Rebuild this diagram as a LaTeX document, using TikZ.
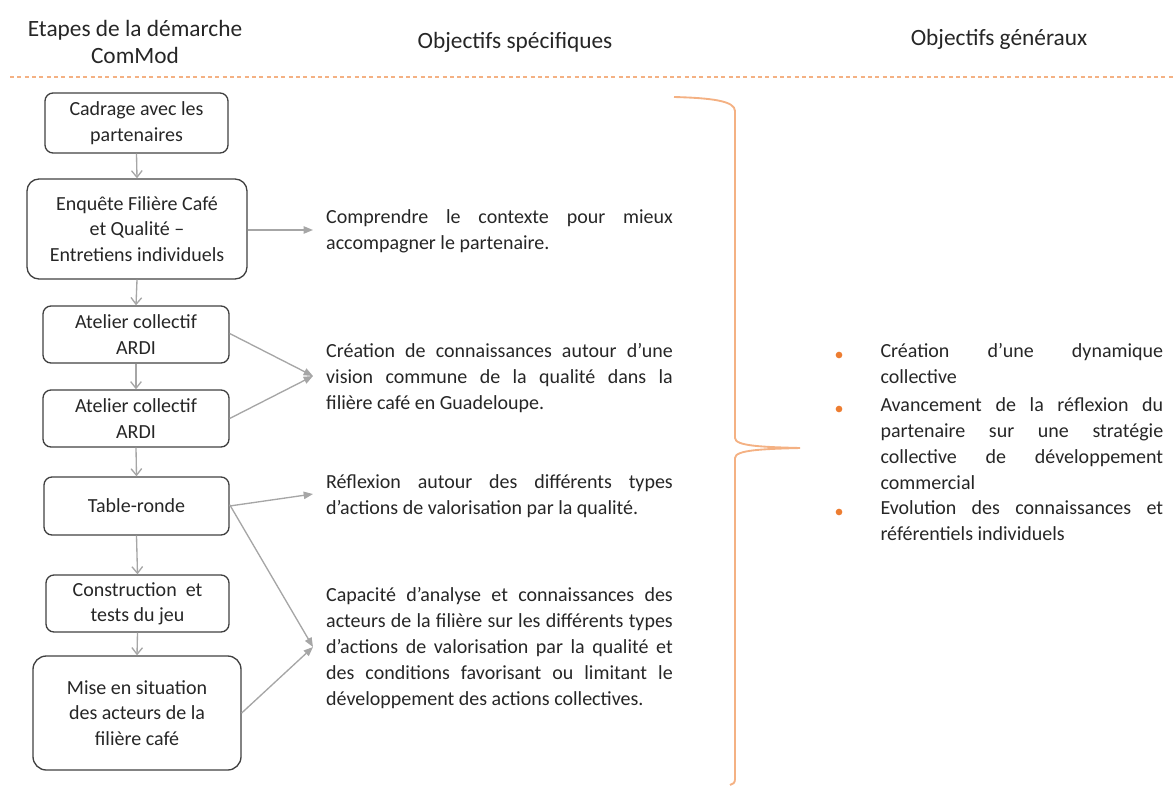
\documentclass[tikz,border=0pt]{standalone}
\usepackage{fontspec}
\setmainfont{Carlito}
\usetikzlibrary{arrows.meta}
\tikzset{every picture/.style={line width=0.75pt}}
\definecolor{orangeclair}{RGB}{244,177,131}
\definecolor{orangepuce}{RGB}{237,125,49}
\definecolor{grisfleche}{RGB}{166,166,166}
\definecolor{griscadre}{RGB}{64,64,64}
\definecolor{texte}{RGB}{38,38,38}
\tikzset{
  etape/.style={draw=griscadre, line width=1pt, rounded corners=6pt, align=center,
    text=texte, inner sep=0pt, font=\fontsize{15}{19}\selectfont},
  suite/.style={draw=grisfleche, line width=1pt, -{Straight Barb[length=5pt,width=8pt]}},
  lien/.style={draw=grisfleche, line width=1pt, -{Triangle[length=7pt,width=5.5pt]}},
  objectif/.style={text width=260pt, align=justify, inner sep=0pt, text=texte,
    font=\fontsize{15}{19.5}\selectfont},
  general/.style={text width=212pt, align=justify, inner sep=0pt, text=texte,
    font=\fontsize{15}{19.5}\selectfont},
  titre/.style={align=center, inner sep=0pt, text=texte, font=\fontsize{17.5}{20.25}\selectfont},
  puce/.style={circle, fill=orangepuce, inner sep=0pt, minimum size=5pt}
}

\begin{document}
\begin{tikzpicture}[x=0.75pt,y=0.75pt,yscale=-1,xscale=1]
\useasboundingbox (0,0) rectangle (1176,785);

% Titres
\node [titre] (titreetapes) at (135,42) {Etapes de la démarche\\ComMod};
\node [titre] (titrespec) at (515,42) {Objectifs spécifiques};
\node [titre] (titregen) at (999,39) {Objectifs généraux};
\draw [orangeclair, line width=1.1pt, dash pattern=on 3pt off 2.5pt] (10,77) -- (1176,77);

% Etapes de la demarche
\node [etape, minimum width=137.25pt, minimum height=45pt] (cadrage) at (136.5,123) {Cadrage avec les\\partenaires};
\node [etape, rounded corners=9pt, minimum width=165pt, minimum height=75pt] (enquete) at (137,229) {Enquête Filière Café\\et Qualité –\\Entretiens individuels};
\node [etape, minimum width=139.5pt, minimum height=42.75pt] (atelierA) at (136,334.5) {Atelier collectif\\ARDI};
\node [etape, minimum width=139.5pt, minimum height=42.75pt] (atelierB) at (136,418.5) {Atelier collectif\\ARDI};
\node [etape, minimum width=138.75pt, minimum height=43.5pt] (table) at (136.5,506) {Table-ronde};
\node [etape, minimum width=137.25pt, minimum height=42.75pt] (construction) at (137.5,603.5) {Construction\ \ et\\tests du jeu};
\node [etape, rounded corners=10pt, minimum width=156pt, minimum height=85.5pt] (mise) at (137,713) {Mise en situation\\des acteurs de la\\filière café};

\draw [suite] (cadrage.south) -- (enquete.north);
\draw [suite] (enquete.south) -- (atelierA.north);
\draw [suite] (atelierA.south) -- (atelierB.north);
\draw [suite] (atelierB.south) -- (table.north);
\draw [suite] (table.south) -- (construction.north);
\draw [suite] (construction.south) -- (mise.north);

% Objectifs specifiques
\node [objectif] (comprendre) at (499.5,231.5) {Comprendre le contexte pour mieux\linebreak accompagner le partenaire.};
\node [objectif] (creation) at (499.5,378) {Création de connaissances autour d’une\linebreak vision commune de la qualité dans la\linebreak filière café en Guadeloupe.};
\node [objectif] (reflexion) at (499.5,496) {Réflexion autour des différents types\linebreak d’actions de valorisation par la qualité.};
\node [objectif] (capacite) at (499.5,648) {Capacité d’analyse et connaissances des\linebreak acteurs de la filière sur les différents types\linebreak d’actions de valorisation par la qualité et\linebreak des conditions favorisant ou limitant le\linebreak développement des actions collectives.};

\coordinate (versA) at (313,230);
\coordinate (versB) at (313,376);
\coordinate (versC) at (313,494);
\coordinate (versD) at (313,647);

\draw [lien] (enquete.east |- versA) -- (versA);
\draw [lien] (atelierA.east) ++(0,-1) -- (versB);
\draw [lien] (atelierB.east) -- (versB);
\draw [lien] (table.east) -- (versC);
\draw [lien] ([yshift=-1pt]table.east) -- (versD);
\draw [lien] (mise.east) -- (versD);

% Accolade
\draw [orangeclair, line width=1.4pt] (674,97) .. controls (712,98) and (735,101) .. (735,111) -- (735,438) .. controls (735,446) and (762,447) .. (800,448) .. controls (762,449) and (735,450) .. (735,458) -- (735,779) .. controls (735,783) and (733,784) .. (730,785);

% Objectifs generaux
\node [general, anchor=north west] (dynamique) at (880,343) {Création d’une dynamique\linebreak collective};
\node [general, anchor=north west] (avancement) at (880,397) {Avancement de la réflexion du\linebreak partenaire sur une stratégie\linebreak collective de développement\linebreak commercial};
\node [general, anchor=north west] (evolution) at (880,500) {Evolution des connaissances et\linebreak référentiels individuels};
\node [puce] (puceA) at (839,355) {};
\node [puce] (puceB) at (839,409) {};
\node [puce] (puceC) at (839,512) {};

\end{tikzpicture}
\end{document}
